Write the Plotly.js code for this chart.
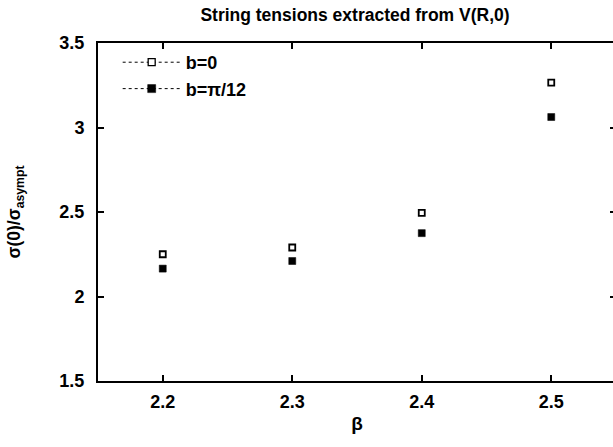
<!DOCTYPE html>
<html>
<head>
<meta charset="utf-8">
<script src="https://cdn.plot.ly/plotly-3.0.1.min.js"></script>
<style>
html,body{margin:0;padding:0;overflow:hidden;background:#fff;}
#chart{width:616px;height:447px;}
</style>
</head>
<body>
<div id="chart"></div>
<script>
const beta = [2.2, 2.3, 2.4, 2.5];
const sigmaB0 = [2.25, 2.29, 2.495, 3.265];
const errB0 = [0.012, 0.012, 0.012, 0.012];
const sigmaBpi12 = [2.165, 2.21, 2.375, 3.062];
const errBpi12 = [0.012, 0.012, 0.012, 0.012];
const seriesNames = ["b=0", "b=\u03c0/12"];
const xTicks = [2.2, 2.3, 2.4, 2.5];
const yTicks = [1.5, 2, 2.5, 3, 3.5];

const font = "Liberation Sans, Arial, sans-serif";

const traces = [
  {
    x: beta, y: sigmaB0, type: "scatter", mode: "markers", showlegend: false,
    marker: {symbol: "square", size: 6, color: "#ffffff", line: {color: "#000", width: 1.8}},
    error_y: {type: "data", array: errB0, visible: true, color: "#000", thickness: 1, width: 2}
  },
  {
    x: beta, y: sigmaBpi12, type: "scatter", mode: "markers", showlegend: false,
    marker: {symbol: "square", size: 7, color: "#000", line: {color: "#000", width: 0.5}},
    error_y: {type: "data", array: errBpi12, visible: true, color: "#000", thickness: 1, width: 2}
  },
  {
    x: [null], y: [null], type: "scatter", mode: "lines+markers", name: seriesNames[0],
    line: {color: "#000", width: 1, dash: "dot"},
    marker: {symbol: "square", size: 7, color: "#fff", line: {color: "#000", width: 1.3}}
  },
  {
    x: [null], y: [null], type: "scatter", mode: "lines+markers", name: seriesNames[1],
    line: {color: "#000", width: 1, dash: "dot"},
    marker: {symbol: "square", size: 8, color: "#000", line: {color: "#000", width: 0.5}}
  }
];

const axisCommon = {
  showgrid: false, zeroline: false, showline: true, linecolor: "#000", linewidth: 2,
  mirror: "ticks", ticks: "inside", ticklen: 6, tickwidth: 2, tickcolor: "#000",
  tickfont: {family: font, size: 18, color: "#000", weight: "bold"}
};

const layout = {
  width: 616, height: 447,
  margin: {l: 98, r: 0, t: 43, b: 66},
  paper_bgcolor: "#fff", plot_bgcolor: "#fff",
  title: {text: "String tensions extracted from V(R,0)", xref: "container", x: 355 / 616, xanchor: "center",
          y: 1 - 15 / 447, yanchor: "middle",
          font: {family: font, size: 17.5, color: "#000", weight: "bold"}},
  xaxis: Object.assign({}, axisCommon, {
    range: [2.15, 2.55], tickvals: xTicks, ticktext: xTicks.map(v => v.toFixed(1)),
    ticklabelstandoff: 3,
    title: {text: "\u03b2", font: {family: font, size: 19, color: "#000", weight: "bold"}, standoff: 6}
  }),
  yaxis: Object.assign({}, axisCommon, {
    range: [1.5, 3.5], tickvals: yTicks, ticktext: yTicks.map(v => String(v)),
    ticklabelstandoff: 8,
    title: {text: "\u03c3(0)/\u03c3<sub>asympt</sub>", font: {family: font, size: 17.5, color: "#000", weight: "bold"}, standoff: 34}
  }),
  showlegend: true,
  legend: {x: 0.038, y: 0.997, xanchor: "left", yanchor: "top", bgcolor: "rgba(0,0,0,0)",
           itemwidth: 58,
           font: {family: font, size: 18, color: "#000", weight: "bold"}, tracegroupgap: 0}
};

Plotly.newPlot("chart", traces, layout, {displayModeBar: false, staticPlot: true});
</script>
</body>
</html>
